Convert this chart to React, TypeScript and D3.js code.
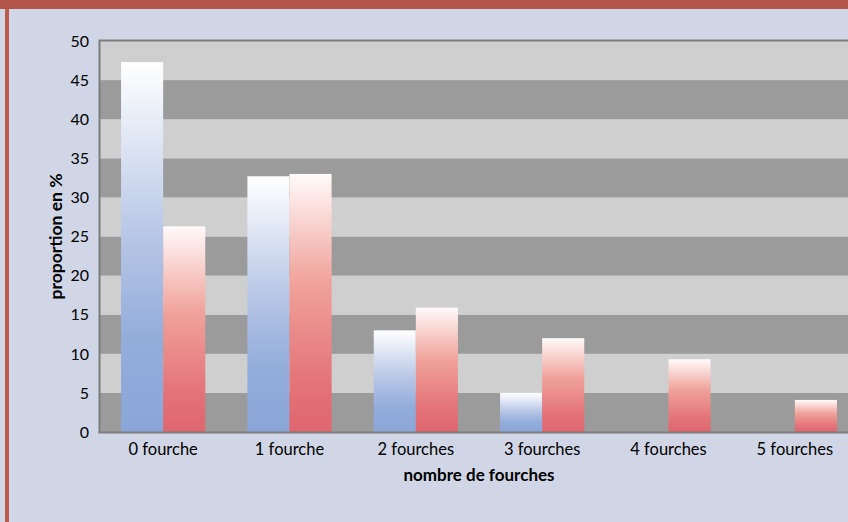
import * as d3 from "d3";

const categories = ["0 fourche", "1 fourche", "2 fourches", "3 fourches", "4 fourches", "5 fourches"];
const seriesNames = ["bleu", "rouge"];
const blueValues = [47.3, 32.7, 13.0, 5.0, 0, 0];
const redValues = [26.3, 33.0, 15.9, 12.0, 9.3, 4.1];
const yTickValues = [0, 5, 10, 15, 20, 25, 30, 35, 40, 45, 50];

const font = "Lato, 'Open Sans', sans-serif";

export default function App() {
  const width = 848;
  const height = 522;
  const plotLeft = 100;
  const plotRight = 858;
  const plotTop = 41;
  const plotBottom = 432;

  const x = d3.scaleBand().domain(categories).range([plotLeft, plotRight]).padding(0);
  const xSub = d3
    .scaleBand()
    .domain(seriesNames)
    .range([0, x.bandwidth()])
    .paddingInner(0)
    .paddingOuter(0.5);
  const y = d3.scaleLinear().domain([0, 50]).range([plotBottom, plotTop]);

  // alternating grey bands, one per 5 %
  const bands = d3.range(0, 50, 5);

  const bars = categories.flatMap((c, i) => [
    { cat: c, key: "bleu", value: blueValues[i] },
    { cat: c, key: "rouge", value: redValues[i] },
  ]);

  return (
    <svg
      width={width}
      height={height}
      style={{ position: "absolute", left: 0, top: 0, display: "block" }}
    >
      <defs>
        <linearGradient id="gradBlue" x1="0" y1="0" x2="0" y2="1">
          <stop offset="0" stopColor="#ffffff" />
          <stop offset="0.5" stopColor="#b3c3e5" />
          <stop offset="0.75" stopColor="#93addb" />
          <stop offset="1" stopColor="#8aa6d8" />
        </linearGradient>
        <linearGradient id="gradRed" x1="0" y1="0" x2="0" y2="1">
          <stop offset="0" stopColor="#fffafa" />
          <stop offset="0.42" stopColor="#f0a29a" />
          <stop offset="0.8" stopColor="#e4747a" />
          <stop offset="1" stopColor="#df666e" />
        </linearGradient>
      </defs>

      {/* chart background and frame */}
      <rect x={0} y={0} width={width} height={height} fill="#d0d6e6" />
      <rect x={0} y={0} width={width} height={9} fill="#b25548" />
      <rect x={5} y={9} width={4} height={height - 9} fill="#bd5a4b" />

      {/* plot bands */}
      {bands.map((b, i) => (
        <rect
          key={b}
          x={plotLeft}
          y={y(b + 5)}
          width={plotRight - plotLeft}
          height={y(b) - y(b + 5)}
          fill={i % 2 === 0 ? "#9b9b9b" : "#cfcfcf"}
        />
      ))}

      {/* bars */}
      {bars
        .filter((d) => d.value > 0)
        .map((d) => (
          <rect
            key={d.cat + d.key}
            x={(x(d.cat) ?? 0) + (xSub(d.key) ?? 0)}
            y={y(d.value)}
            width={xSub.bandwidth()}
            height={y(0) - y(d.value)}
            fill={d.key === "bleu" ? "url(#gradBlue)" : "url(#gradRed)"}
          />
        ))}

      {/* plot border */}
      <line x1={plotLeft} x2={plotRight} y1={plotTop - 0.5} y2={plotTop - 0.5} stroke="#7d7d7d" strokeWidth={2} />
      <line x1={plotLeft - 0.5} x2={plotLeft - 0.5} y1={plotTop - 1.5} y2={plotBottom + 1} stroke="#7d7d7d" strokeWidth={2} />
      <line x1={plotLeft - 1.5} x2={plotRight} y1={plotBottom + 0.5} y2={plotBottom + 0.5} stroke="#7d7d7d" strokeWidth={2} />

      {/* y ticks */}
      {yTickValues.map((t) => (
        <text
          key={t}
          x={89}
          y={y(t)}
          dy="0.36em"
          textAnchor="end"
          fontFamily={font}
          fontSize={16}
          fill="#000"
        >
          {t}
        </text>
      ))}

      {/* x ticks */}
      {categories.map((c) => (
        <text
          key={c}
          x={(x(c) ?? 0) + x.bandwidth() / 2}
          y={455}
          textAnchor="middle"
          fontFamily={font}
          fontSize={16.5}
          fill="#000"
        >
          {c}
        </text>
      ))}

      {/* axis titles */}
      <text
        x={(plotLeft + plotRight) / 2}
        y={481}
        textAnchor="middle"
        fontFamily={font}
        fontSize={17}
        fontWeight="bold"
        fill="#000"
      >
        nombre de fourches
      </text>
      <text
        transform={`translate(62,${(plotTop + plotBottom) / 2}) rotate(-90)`}
        textAnchor="middle"
        fontFamily={font}
        fontSize={17.5}
        fontWeight="bold"
        fill="#000"
      >
        proportion en %
      </text>
    </svg>
  );
}
